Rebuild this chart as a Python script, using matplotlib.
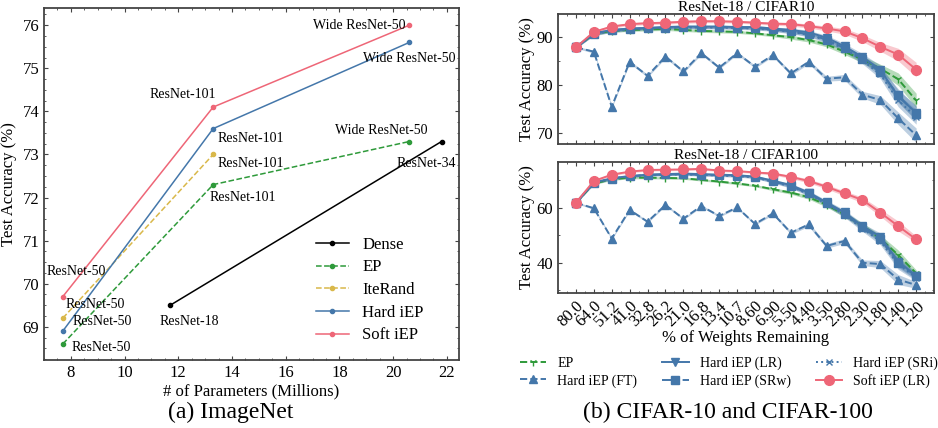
import matplotlib
matplotlib.use("Agg")
import matplotlib.pyplot as plt
from matplotlib.ticker import AutoMinorLocator
import numpy as np

plt.rcParams['font.family'] = ['Liberation Serif', 'DejaVu Serif']
plt.rcParams['mathtext.fontset'] = 'stix'

# ---------------- (a) ImageNet data ----------------
dense_x = [11.7, 21.8]
dense_y = [69.5, 73.3]
dense_names = ['ResNet-18', 'ResNet-34']

ep_x = [7.7, 13.3, 20.6]
ep_y = [68.6, 72.3, 73.3]
iterand_x = [7.7, 13.3]
iterand_y = [69.2, 73.0]
hard_x = [7.7, 13.3, 20.6]
hard_y = [68.9, 73.6, 75.6]
soft_x = [7.7, 13.3, 20.6]
soft_y = [69.7, 74.1, 76.0]
model_names = ['ResNet-50', 'ResNet-101', 'Wide ResNet-50']

# ---------------- (b) CIFAR data ----------------
weights_remaining = ['80.0', '64.0', '51.2', '41.0', '32.8', '26.2', '21.0', '16.8', '13.4', '10.7',
                     '8.60', '6.90', '5.50', '4.40', '3.50', '2.80', '2.30', '1.80', '1.40', '1.20']

c10_ep = [87.8, 90.6, 91.2, 91.4, 91.5, 91.6, 91.4, 91.2, 91.1, 91.0,
          90.7, 90.3, 89.9, 89.3, 88.4, 86.9, 85.3, 83.4, 81.2, 76.8]
c10_ft = [87.8, 86.9, 75.5, 84.8, 81.9, 85.9, 82.8, 86.6, 83.6, 86.6,
          83.8, 86.2, 82.4, 84.8, 81.3, 81.6, 78.0, 76.9, 73.1, 69.6]
c10_lr = [87.8, 90.7, 91.4, 91.7, 91.8, 92.0, 92.1, 92.1, 92.1, 92.0,
          92.0, 91.7, 91.4, 90.9, 89.8, 88.0, 85.8, 83.2, 77.6, 74.3]
c10_srw = [87.8, 90.6, 91.3, 91.6, 91.8, 91.9, 92.0, 92.0, 92.0, 91.9,
           91.8, 91.5, 91.1, 90.5, 89.4, 87.6, 85.4, 82.7, 77.9, 74.0]
c10_sri = [87.8, 90.5, 91.2, 91.5, 91.7, 91.8, 91.9, 91.9, 91.9, 91.8,
           91.7, 91.4, 91.0, 90.4, 89.2, 87.4, 85.1, 82.2, 76.8, 73.4]
c10_soft = [87.8, 91.0, 92.1, 92.6, 92.8, 92.9, 93.1, 93.2, 93.2, 93.1,
            92.9, 92.7, 92.6, 92.2, 91.7, 91.1, 89.7, 87.9, 86.3, 83.2]
c10_spread = [0.2, 0.3, 0.3, 0.3, 0.3, 0.3, 0.3, 0.3, 0.3, 0.3,
              0.3, 0.3, 0.4, 0.4, 0.5, 0.6, 0.7, 0.9, 1.3, 1.5]

c100_ep = [61.8, 68.8, 70.3, 70.9, 70.9, 70.8, 70.7, 70.1, 69.5, 68.8,
           68.0, 66.7, 65.5, 63.8, 61.0, 57.5, 53.5, 48.8, 42.8, 36.2]
c100_ft = [61.8, 59.8, 48.8, 59.2, 54.9, 61.0, 56.0, 60.6, 57.0, 60.1,
           54.1, 57.9, 50.9, 53.9, 46.1, 47.9, 40.0, 39.5, 33.9, 31.9]
c100_lr = [61.8, 69.1, 70.7, 71.5, 72.0, 72.2, 72.4, 72.2, 72.0, 71.8,
           71.3, 69.8, 68.2, 65.5, 61.9, 58.3, 53.3, 49.5, 40.4, 35.2]
c100_srw = [61.8, 69.0, 70.6, 71.4, 71.9, 72.1, 72.2, 72.0, 71.8, 71.6,
            71.1, 69.6, 67.9, 65.2, 61.6, 57.8, 52.9, 48.6, 40.0, 35.0]
c100_sri = [61.8, 68.9, 70.5, 71.3, 71.8, 72.0, 72.1, 71.9, 71.7, 71.5,
            71.0, 69.4, 67.7, 64.9, 61.3, 57.4, 52.4, 47.8, 39.4, 34.6]
c100_soft = [61.8, 69.7, 72.0, 73.1, 73.7, 73.8, 73.9, 74.1, 73.5, 73.3,
             72.8, 72.4, 71.2, 69.7, 67.6, 65.2, 62.8, 58.2, 53.3, 48.5]
c100_spread = [0.3, 0.4, 0.4, 0.4, 0.4, 0.4, 0.4, 0.4, 0.4, 0.4,
               0.4, 0.5, 0.6, 0.7, 0.8, 0.9, 1.0, 1.3, 1.8, 1.2]

RED = '#ee6677'
BLUE = '#4477aa'
GREEN = '#2e9a3a'
GOLD = '#d9b84a'
SPINE = '#444444'


def style_axes(ax):
    for sp in ax.spines.values():
        sp.set_color(SPINE)
        sp.set_linewidth(1.3)
    ax.tick_params(direction='in', top=True, right=True, which='both', colors=SPINE,
                   labelcolor='black', labelsize=12)
    ax.tick_params(which='major', length=3)
    ax.tick_params(which='minor', length=1.5)


fig = plt.figure(figsize=(9.38, 4.28), dpi=100)

# ---------------- (a) ImageNet ----------------
ax = fig.add_axes([0.0469, 0.159, 0.4424, 0.8224])
ax.plot(dense_x, dense_y, '-', color='black', marker='o', ms=3, lw=1.1, label='Dense')
ax.plot(ep_x, ep_y, '--', color=GREEN, marker='o', ms=3, lw=1.1, label='EP')
ax.plot(iterand_x, iterand_y, '--', color=GOLD, marker='o', ms=3, lw=1.1, label='IteRand')
ax.plot(hard_x, hard_y, '-', color=BLUE, marker='o', ms=3, lw=1.1, label='Hard iEP')
ax.plot(soft_x, soft_y, '-', color=RED, marker='o', ms=3, lw=1.1, label='Soft iEP')

fs_ann = 10
def label(x, y, txt, dx, dy, ha='center'):
    ax.annotate(txt, (x, y), xytext=(dx, -dy), textcoords='offset pixels',
                ha=ha, va='center', fontsize=fs_ann)

# soft iEP
label(soft_x[0], soft_y[0], model_names[0], 13, -25)
label(soft_x[1], soft_y[1], model_names[1], -30, -13)
label(soft_x[2], soft_y[2], model_names[2], -4, 0, ha='right')
# hard iEP
label(hard_x[0], hard_y[0], model_names[0], 10, -10, ha='left')
label(hard_x[1], hard_y[1], model_names[1], 4, 10, ha='left')
label(hard_x[2], hard_y[2], model_names[2], 0, 16)
# IteRand
label(iterand_x[0], iterand_y[0], model_names[0], 3, -14, ha='left')
label(iterand_x[1], iterand_y[1], model_names[1], 4, 9, ha='left')
# EP
label(ep_x[0], ep_y[0], model_names[0], 9, 3, ha='left')
label(ep_x[1], ep_y[1], model_names[1], -4, 13, ha='left')
label(ep_x[2], ep_y[2], model_names[2], -28, -11)
# Dense
label(dense_x[0], dense_y[0], dense_names[0], 19, 16)
label(dense_x[1], dense_y[1], dense_names[1], -15, 22)

ax.set_xlim(7.0, 22.45)
ax.set_ylim(68.23, 76.4)
ax.set_xticks(range(8, 23, 2))
ax.set_yticks(range(69, 77))
ax.xaxis.set_minor_locator(AutoMinorLocator(4))
ax.yaxis.set_minor_locator(AutoMinorLocator(4))
style_axes(ax)
ax.set_xlabel('# of Parameters (Millions)', fontsize=12, labelpad=2)
ax.set_ylabel('Test Accuracy (%)', fontsize=12, labelpad=4)
ax.legend(loc='upper left', frameon=False, fontsize=12, handlelength=2.0,
          labelspacing=0.4, borderpad=0, borderaxespad=0,
          bbox_to_anchor=(0.655, 0.35))

fig.text(0.246, 0.037, '(a) ImageNet', ha='center', va='center', fontsize=17)

# ---------------- (b) CIFAR ----------------
x = np.arange(len(weights_remaining))


def cifar_panel(ax, ep, ft, lr, srw, sri, soft, spread):
    sp = np.array(spread)
    series = [
        (ep, GREEN, '--', '1', 'EP', 6),
        (ft, BLUE, '--', '^', 'Hard iEP (FT)', 6),
        (lr, BLUE, '-', 'v', 'Hard iEP (LR)', 6),
        (srw, BLUE, '-.', 's', 'Hard iEP (SRw)', 6),
        (sri, BLUE, ':', 'x', 'Hard iEP (SRi)', 5),
        (soft, RED, '-', 'o', 'Soft iEP (LR)', 7),
    ]
    for vals, col, ls, mk, lab, ms in series:
        v = np.array(vals)
        ax.fill_between(x, v - sp, v + sp, color=col, alpha=0.35, lw=0)
        ax.plot(x, v, linestyle=ls, color=col, marker=mk, ms=ms, lw=1.4, label=lab)
    ax.set_xlim(-1, 20)
    ax.set_xticks(x)
    ax.xaxis.set_minor_locator(AutoMinorLocator(2))
    ax.yaxis.set_minor_locator(AutoMinorLocator(2))
    style_axes(ax)
    ax.set_ylabel('Test Accuracy (%)', fontsize=12, labelpad=1)


ax1 = fig.add_axes([0.5949, 0.6636, 0.4009, 0.3037])
cifar_panel(ax1, c10_ep, c10_ft, c10_lr, c10_srw, c10_sri, c10_soft, c10_spread)
ax1.set_ylim(67.8, 94.7)
ax1.set_yticks([70, 80, 90])
ax1.set_xticklabels([])
ax1.set_title('ResNet-18 / CIFAR10', fontsize=11, pad=0)

ax2 = fig.add_axes([0.5949, 0.3154, 0.4009, 0.3061])
cifar_panel(ax2, c100_ep, c100_ft, c100_lr, c100_srw, c100_sri, c100_soft, c100_spread)
ax2.set_ylim(29, 76.6)
ax2.set_yticks([40, 60])
ax2.set_xticklabels(weights_remaining, rotation=45, ha='right', rotation_mode='anchor', fontsize=12)
ax2.set_xlabel('% of Weights Remaining', fontsize=12, labelpad=0)
ax2.set_title('ResNet-18 / CIFAR100', fontsize=11, pad=0.5)

handles, labels = ax2.get_legend_handles_labels()
fig.legend(handles, labels, ncol=3, loc='center', bbox_to_anchor=(0.777, 0.13),
           frameon=False, fontsize=10, handlelength=1.9, columnspacing=1.8,
           labelspacing=0.3)

fig.text(0.776, 0.037, '(b) CIFAR-10 and CIFAR-100', ha='center', va='center', fontsize=17)

fig.savefig('out.png', dpi=100)
